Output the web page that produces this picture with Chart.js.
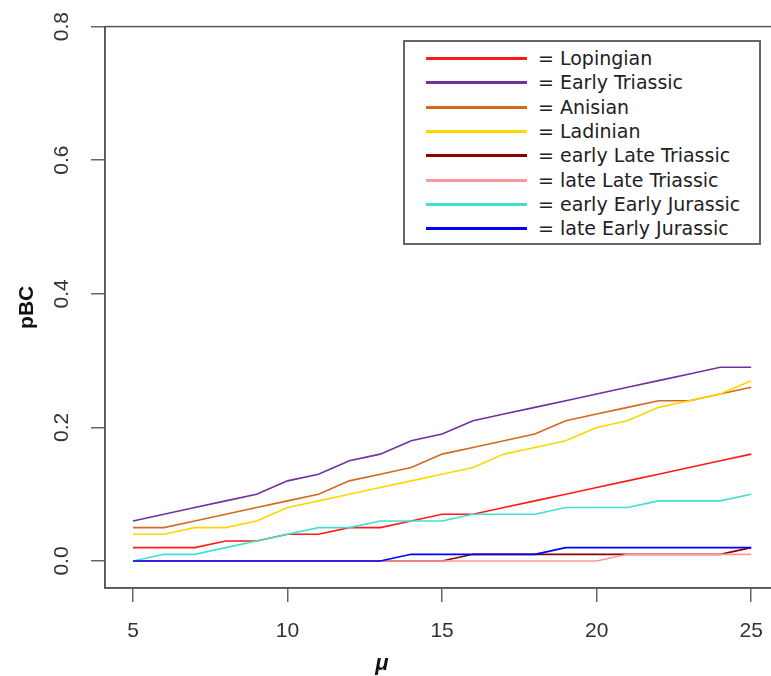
<!DOCTYPE html>
<html>
<head>
<meta charset="utf-8">
<script src="https://cdn.jsdelivr.net/npm/chart.js@4/dist/chart.umd.min.js"></script>
<style>
  html, body { margin: 0; padding: 0; background: #fff; overflow: hidden; }
  #wrap { position: relative; width: 780px; height: 676px; }
  #legend { position: absolute; left: 403px; top: 40px; width: 354px; height: 201px;
            border: 2px solid #666; background: #fff; box-sizing: content-box; }
  .row { position: absolute; left: 0; height: 24px; width: 100%; }
  .swatch { position: absolute; left: 21px; width: 101px; height: 3px; top: 11px; }
  .lbl { position: absolute; left: 133px; top: 0; line-height: 24px; font-family: "DejaVu Sans", sans-serif;
         font-size: 19px; color: #222; white-space: nowrap; }
  #xtitle { position: absolute; left: 382px; top: 663px; transform: translate(-50%, -50%);
            font-family: "Liberation Sans", Arial, sans-serif; font-weight: bold; font-style: italic;
            font-size: 22px; color: #111; }
</style>
</head>
<body>
<div id="wrap">
  <canvas id="c" width="780" height="676"></canvas>
  <div id="legend"></div>
  <div id="xtitle">μ</div>
</div>
<script>
const xValues = [5,6,7,8,9,10,11,12,13,14,15,16,17,18,19,20,21,22,23,24,25];
const xTicks = [5,10,15,20,25];
const yTicks = [0,0.2,0.4,0.6,0.8];

const seriesNames = ["Lopingian","Early Triassic","Anisian","Ladinian","early Late Triassic","late Late Triassic","early Early Jurassic","late Early Jurassic"];
const seriesColors = ["#FF1A1A","#7030A0","#D2691E","#FFD700","#8B0000","#FF9999","#40E0D0","#0000FF"];

const lopingian = [0.02,0.02,0.02,0.03,0.03,0.04,0.04,0.05,0.05,0.06,0.07,0.07,0.08,0.09,0.10,0.11,0.12,0.13,0.14,0.15,0.16];
const earlyTriassic = [0.06,0.07,0.08,0.09,0.10,0.12,0.13,0.15,0.16,0.18,0.19,0.21,0.22,0.23,0.24,0.25,0.26,0.27,0.28,0.29,0.29];
const anisian = [0.05,0.05,0.06,0.07,0.08,0.09,0.10,0.12,0.13,0.14,0.16,0.17,0.18,0.19,0.21,0.22,0.23,0.24,0.24,0.25,0.26];
const ladinian = [0.04,0.04,0.05,0.05,0.06,0.08,0.09,0.10,0.11,0.12,0.13,0.14,0.16,0.17,0.18,0.20,0.21,0.23,0.24,0.25,0.27];
const earlyLateTriassic = [0,0,0,0,0,0,0,0,0,0,0,0.01,0.01,0.01,0.01,0.01,0.01,0.01,0.01,0.01,0.02];
const lateLateTriassic = [0,0,0,0,0,0,0,0,0,0,0,0,0,0,0,0,0.01,0.01,0.01,0.01,0.01];
const earlyEarlyJurassic = [0.00,0.01,0.01,0.02,0.03,0.04,0.05,0.05,0.06,0.06,0.06,0.07,0.07,0.07,0.08,0.08,0.08,0.09,0.09,0.09,0.10];
const lateEarlyJurassic = [0,0,0,0,0,0,0,0,0,0.01,0.01,0.01,0.01,0.01,0.02,0.02,0.02,0.02,0.02,0.02,0.02];

const allSeries = [lopingian, earlyTriassic, anisian, ladinian, earlyLateTriassic, lateLateTriassic, earlyEarlyJurassic, lateEarlyJurassic];

const datasets = allSeries.map((s, i) => ({
  label: seriesNames[i],
  data: xValues.map((x, j) => ({ x: x, y: s[j] })),
  borderColor: seriesColors[i],
  backgroundColor: seriesColors[i],
  borderWidth: 1.6,
  pointRadius: 0,
  tension: 0,
  fill: false,
  order: -i
}));

// HTML legend built from the names/colours
const leg = document.getElementById('legend');
seriesNames.forEach((n, i) => {
  const r = document.createElement('div');
  r.className = 'row';
  r.style.top = (4 + i * 24.3) + 'px';
  const sw = document.createElement('div');
  sw.className = 'swatch';
  sw.style.background = seriesColors[i];
  const t = document.createElement('div');
  t.className = 'lbl';
  t.textContent = '= ' + n;
  r.appendChild(sw); r.appendChild(t);
  leg.appendChild(r);
});

const boxPlugin = {
  id: 'box',
  beforeDatasetsDraw(chart) {
    const a = chart.chartArea, ctx = chart.ctx;
    ctx.save();
    ctx.strokeStyle = '#555';
    ctx.lineWidth = 1.5;
    ctx.strokeRect(a.left, a.top, a.right - a.left, a.bottom - a.top);
    ctx.restore();
  }
};

const tickFont = { family: 'Liberation Sans', size: 21 };

new Chart(document.getElementById('c'), {
  type: 'line',
  data: { datasets },
  plugins: [boxPlugin],
  options: {
    responsive: false,
    animation: false,
    devicePixelRatio: 1,
    layout: { padding: { top: 26, right: 3, left: 0, bottom: 0 } },
    plugins: { legend: { display: false }, tooltip: { enabled: false } },
    scales: {
      x: {
        type: 'linear',
        min: 4.095, max: 25.808,
        afterBuildTicks: s => { s.ticks = xTicks.map(v => ({ value: v })); },
        afterFit: s => { s.height = 88; },
        ticks: { font: tickFont, color: '#333', padding: 17, autoSkip: false, maxRotation: 0,
                 callback: v => String(v) },
        grid: { drawOnChartArea: false, tickLength: 14, color: '#666', lineWidth: 1.5 },
        border: { display: true, color: '#555', width: 1.5 }
      },
      y: {
        type: 'linear',
        min: -0.0404, max: 0.8,
        afterBuildTicks: s => { s.ticks = yTicks.map(v => ({ value: v })); },
        afterFit: s => { s.width = 105; },
        ticks: { font: tickFont, color: '#333', padding: 14, minRotation: 90, maxRotation: 90,
                 crossAlign: 'center', autoSkip: false, callback: v => Number(v).toFixed(1) },
        grid: { drawOnChartArea: false, tickLength: 14, color: '#666', lineWidth: 1.5 },
        border: { display: true, color: '#555', width: 1.5 },
        title: { display: true, text: 'pBC', color: '#111',
                 font: { family: 'Liberation Sans', size: 21, weight: 'bold' }, padding: { top: 15, bottom: 0 } }
      }
    }
  }
});
</script>
</body>
</html>
